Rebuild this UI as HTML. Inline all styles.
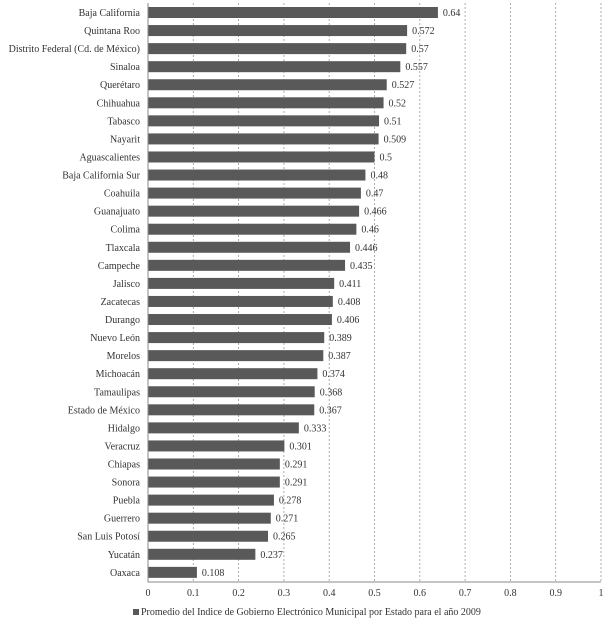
<!DOCTYPE html>
<html><head><meta charset="utf-8"><style>
body{margin:0;background:#fff;}
svg text{font-family:"Liberation Serif",serif;font-size:10px;fill:#333;}
</style></head><body>
<svg width="611" height="624" id="c"></svg>
<script>
const states=["Baja California","Quintana Roo","Distrito Federal (Cd. de México)","Sinaloa","Querétaro","Chihuahua","Tabasco","Nayarit","Aguascalientes","Baja California Sur","Coahuila","Guanajuato","Colima","Tlaxcala","Campeche","Jalisco","Zacatecas","Durango","Nuevo León","Morelos","Michoacán","Tamaulipas","Estado de México","Hidalgo","Veracruz","Chiapas","Sonora","Puebla","Guerrero","San Luis Potosí","Yucatán","Oaxaca"];
const values=[0.64,0.572,0.57,0.557,0.527,0.52,0.51,0.509,0.5,0.48,0.47,0.466,0.46,0.446,0.435,0.411,0.408,0.406,0.389,0.387,0.374,0.368,0.367,0.333,0.301,0.291,0.291,0.278,0.271,0.265,0.237,0.108];
const ticks=[0,0.1,0.2,0.3,0.4,0.5,0.6,0.7,0.8,0.9,1];
const tickLabels=["0","0.1","0.2","0.3","0.4","0.5","0.6","0.7","0.8","0.9","1"];
const NS="http://www.w3.org/2000/svg",svg=document.getElementById('c');
const x0=148,x1=601,yTop=3,yAxis=582;
const xs=v=>x0+v*(x1-x0);
const ys=i=>12.5+i*18.06;
function mk(t,a,p){const e=document.createElementNS(NS,t);for(const k in a)e.setAttribute(k,a[k]);(p||svg).appendChild(e);return e;}
ticks.forEach((t,i)=>{
 if(i>0){const g=mk('line',{x1:xs(t),x2:xs(t),y1:yTop,y2:yAxis,stroke:'#999','stroke-dasharray':'2,2','stroke-width':0.8});
 
 }
 const tl=mk('text',{x:xs(t),y:596,'text-anchor':'middle'});tl.textContent=tickLabels[i];
 
 
});
states.forEach((s,i)=>{
 const y=ys(i);
 const b=mk('rect',{x:x0,y:y-5.5,width:xs(values[i])-x0,height:11,fill:'#595959'});
 
 
 const l=mk('text',{x:140,y:y+3.5,'text-anchor':'end'});l.textContent=s;
 
 
 const v=mk('text',{x:xs(values[i])+5,y:y+3.5});v.textContent=String(values[i]);
 
 
});
const ya=mk('line',{x1:x0,x2:x0,y1:yTop,y2:yAxis,stroke:'#888'});


const xa=mk('line',{x1:x0,x2:x1,y1:yAxis,y2:yAxis,stroke:'#888'});


const lg=mk('rect',{x:133,y:609,width:6,height:6,fill:'#595959'});


const lt=mk('text',{x:141,y:615});lt.textContent="Promedio del Indice de Gobierno Electrónico Municipal por Estado para el año 2009";


</script>
</body></html>
